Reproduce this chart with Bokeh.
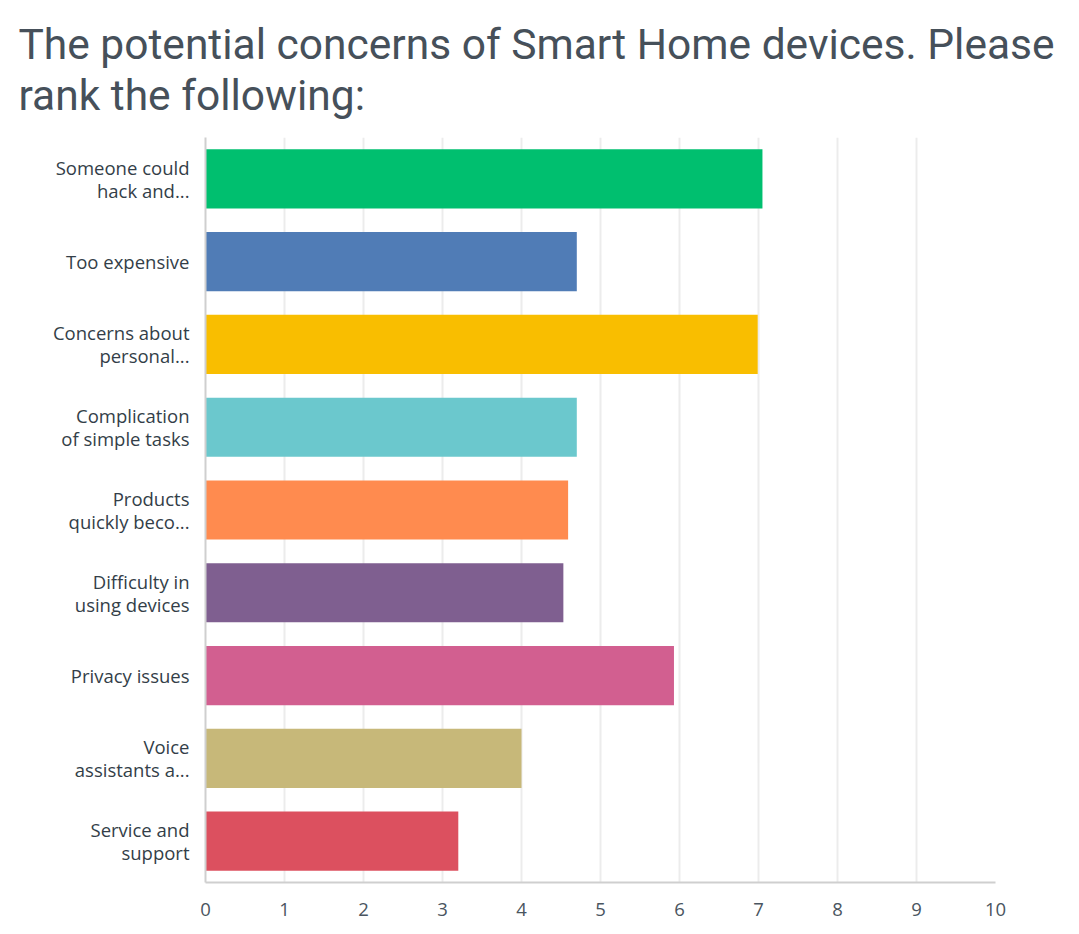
from bokeh.plotting import figure
from bokeh.models import FactorRange, Range1d, FixedTicker, Title
from bokeh.embed import file_html
from bokeh.resources import INLINE

categories = [
    "Someone could\nhack and...",
    "Too expensive",
    "Concerns about\npersonal...",
    "Complication\nof simple tasks",
    "Products\nquickly beco...",
    "Difficulty in\nusing devices",
    "Privacy issues",
    "Voice\nassistants a...",
    "Service and\nsupport",
]
values = [7.05, 4.70, 6.99, 4.70, 4.59, 4.53, 5.93, 4.00, 3.20]
colors = ["#00bf6f", "#507cb6", "#f9be00", "#6bc8cd", "#ff8b4f",
          "#7f5f90", "#d25f90", "#c7b879", "#dc505f"]
x_ticks = [0, 1, 2, 3, 4, 5, 6, 7, 8, 9, 10]
title_text = "The potential concerns of Smart Home devices.  Please\nrank the following:"

p = figure(
    width=1063, height=926,
    y_range=FactorRange(factors=list(reversed(categories)), range_padding=0),
    x_range=Range1d(0, 10),
    output_backend="svg", toolbar_location=None,
    min_border_left=205, min_border_right=68,
    min_border_top=137, min_border_bottom=44,
)
p.frame_width = 790
p.frame_height = 745

p.title = None
t = Title(text=title_text, text_font="Roboto", text_font_size="42.5px",
          text_font_style="normal", text_color="#46505a",
          align="left", offset=-187, standoff=34, text_line_height=1.05)
p.add_layout(t, "above")

p.hbar(y=categories, right=values, left=0, height=0.715,
       fill_color=colors, line_color=None)

p.outline_line_color = None
p.xgrid.grid_line_color = "#ececec"
p.xgrid.grid_line_width = 2
p.ygrid.grid_line_color = None

p.xaxis.ticker = FixedTicker(ticks=x_ticks)
p.xaxis.axis_line_color = "#cfcfcf"
p.xaxis.axis_line_width = 2
p.xaxis.major_tick_line_color = None
p.xaxis.minor_tick_line_color = None
p.xaxis.major_label_text_font = "Open Sans"
p.xaxis.major_label_text_font_size = "18.5px"
p.xaxis.major_label_text_color = "#4a5560"
p.xaxis.major_label_standoff = 14

p.yaxis.axis_line_color = "#cfcfcf"
p.yaxis.axis_line_width = 2
p.yaxis.major_tick_line_color = None
p.yaxis.minor_tick_line_color = None
p.yaxis.major_label_text_font = "Open Sans"
p.yaxis.major_label_text_font_size = "18.5px"
p.yaxis.major_label_text_color = "#333e48"
p.yaxis.major_label_text_line_height = 0.92
p.yaxis.major_label_standoff = 10

open("out.html", "w").write(file_html(p, INLINE))
